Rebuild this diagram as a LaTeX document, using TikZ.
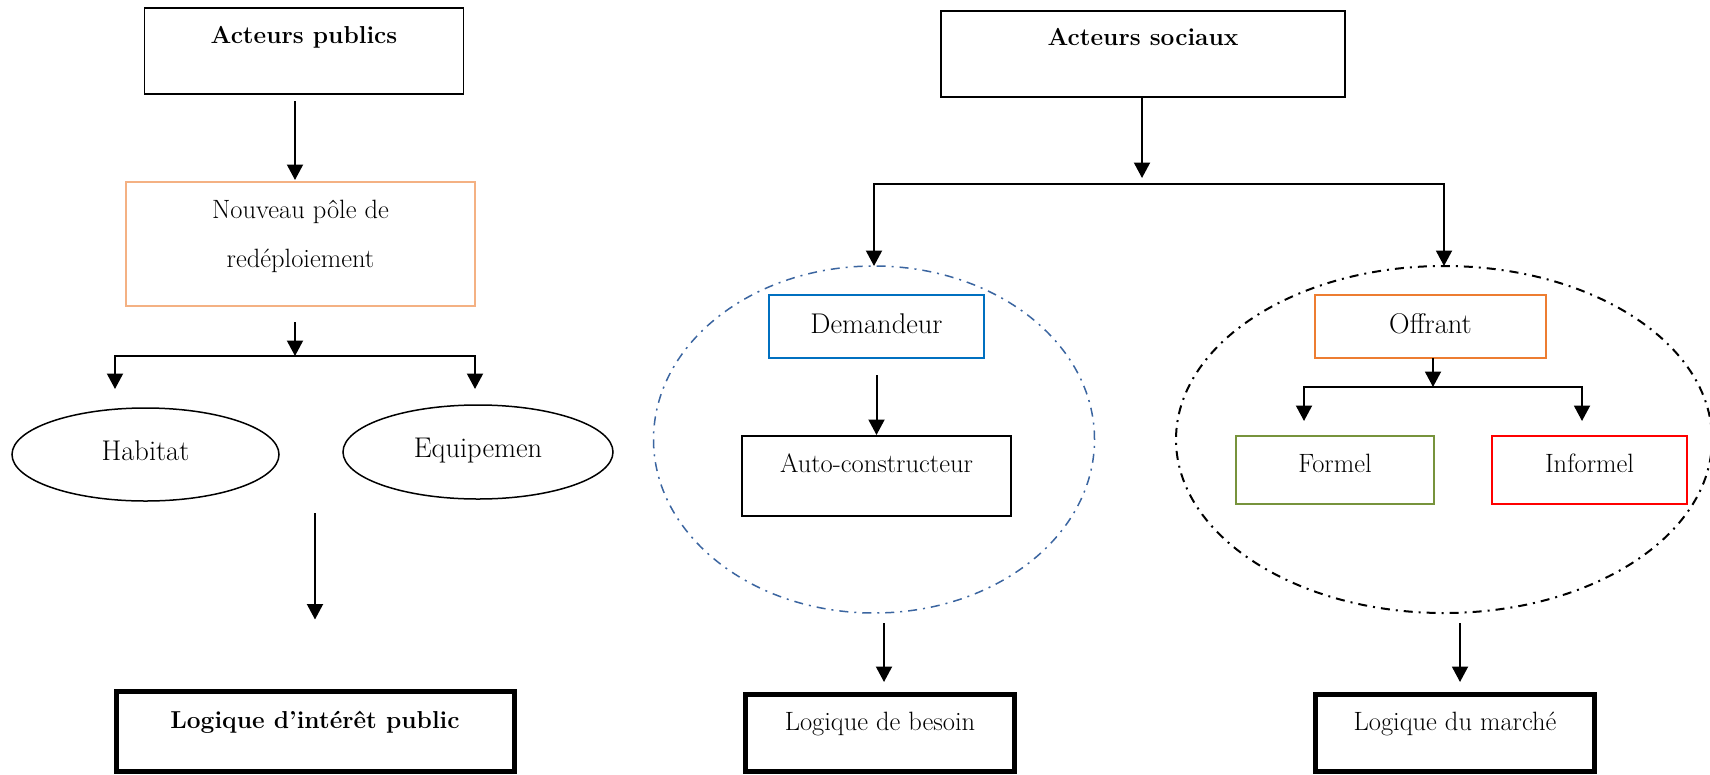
\documentclass[tikz,border=0pt]{standalone}
\usepackage{fontspec}
\usetikzlibrary{arrows.meta,shapes.geometric}
\definecolor{peach}{HTML}{F4B183}
\definecolor{wordblue}{HTML}{0070C0}
\definecolor{wordorange}{HTML}{ED7D31}
\definecolor{olivegreen}{HTML}{77933C}
\definecolor{steel}{HTML}{3B65A0}
\begin{document}
\begin{tikzpicture}[x=1pt,y=-1pt,
  every node/.style={inner sep=0pt, outer sep=0pt},
  box/.style={draw, rectangle, line width=1.8pt, anchor=base},
  thickbox/.style={box, line width=5pt},
  oval/.style={draw, ellipse, line width=1.5pt, anchor=base},
  zone/.style={draw, ellipse, line width=1.5pt, dash pattern=on 9pt off 6pt on 2pt off 6pt},
  arr/.style={line width=2pt, -{Triangle[length=15.5pt,width=16pt]}},
  txt/.style={font=\fontsize{26.5}{32}\selectfont},
  txtl/.style={font=\fontsize{28.5}{34}\selectfont},
  txtb/.style={font=\fontsize{24.5}{30}\selectfont\bfseries}
]
\useasboundingbox (0,0) rectangle (1710,774);

% ---------- public actors ----------
\node[box, txtb, minimum width=319pt, text height=35pt, text depth=51pt] (pub) at (304,43) {Acteurs publics};
\node[draw=peach, line width=1.8pt, minimum width=349pt, minimum height=124pt,
      label={[font=\fontsize{26.5}{49}\selectfont, align=center, yshift=8pt]center:Nouveau pôle de\\redéploiement}] (pole) at (300.5,244) {};
\coordinate (j1) at (295,356);
\draw[arr, shorten <=7pt, shorten >=2pt] (j1 |- pub.south) -- (j1 |- pole.north);
\draw[arr, shorten <=16pt] (j1 |- pole.south) -- (j1);
\coordinate (hL) at (115,389);
\coordinate (hR) at (475,389);
\draw[arr] (j1) -| (hL);
\draw[arr] (j1) -| (hR);

\node[oval, txtl, minimum width=267pt, minimum height=93pt, text height=15pt, text depth=4pt] (hab) at (145.5,460) {Habitat};
\node[oval, txtl, minimum width=270pt, minimum height=94pt, text height=14pt, text depth=4pt] (equ) at (478,457) {Equipemen};

\node[thickbox, txtb, minimum width=398pt, text height=36.5pt, text depth=43pt] (lip) at (315,728) {Logique d’intérêt public};
\coordinate (s3) at (315,513);
\draw[arr, shorten >=72pt] (s3) -- (s3 |- lip.north);

% ---------- social actors ----------
\node[box, txtb, minimum width=404pt, text height=34pt, text depth=52pt] (soc) at (1143,45) {Acteurs sociaux};
\coordinate (j2) at (1142,184);
\draw[arr, shorten >=6pt] (j2 |- soc.south) -- (j2);

\node[zone, draw=steel, minimum width=441pt, minimum height=347pt] (dz) at (874,439.5) {};
\node[zone, line width=2pt, minimum width=536pt, minimum height=347pt] (oz) at (1444,439.5) {};
\draw[arr] (j2) -| (dz.north);
\draw[arr] (j2) -| (oz.north);

% demand side
\node[box, txtl, draw=wordblue, minimum width=215pt, text height=38pt, text depth=25pt] (dem) at (876.5,333) {Demandeur};
\node[box, txt, minimum width=269pt, text height=36pt, text depth=44pt] (auto) at (876.5,472) {Auto-constructeur};
\draw[arr, shorten <=17pt, shorten >=1pt] (dem) -- (auto);
\node[thickbox, txt, minimum width=268.5pt, text height=36pt, text depth=41pt] (bes) at (880,730) {Logique de besoin};
\coordinate (s5) at (884,623);
\draw[arr, shorten >=12pt] (s5) -- (s5 |- bes.north);

% supply side
\node[box, txtl, draw=wordorange, minimum width=231pt, text height=38pt, text depth=25pt] (off) at (1430.5,333) {Offrant};
\coordinate (j3) at (1433,387);
\draw[arr] (j3 |- off.south) -- (j3);
\coordinate (fL) at (1304,421);
\coordinate (fR) at (1582,421);
\draw[arr] (j3) -| (fL);
\draw[arr] (j3) -| (fR);
\node[box, txt, draw=olivegreen, minimum width=198pt, text height=36pt, text depth=32pt] (fml) at (1335,472) {Formel};
\node[box, txt, draw=red, minimum width=195pt, text height=36pt, text depth=32pt] (infml) at (1589.5,472) {Informel};
\node[thickbox, txt, minimum width=279pt, text height=36pt, text depth=41pt] (mar) at (1455,730) {Logique du marché};
\coordinate (s6) at (1460,623);
\draw[arr, shorten >=12pt] (s6) -- (s6 |- mar.north);
\end{tikzpicture}
\end{document}
